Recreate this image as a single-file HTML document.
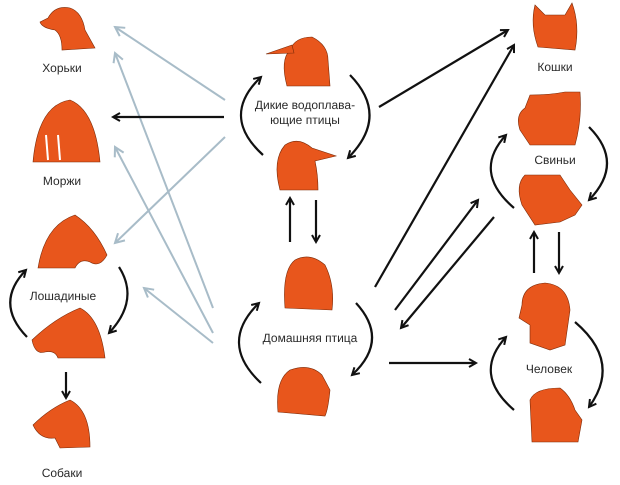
<!DOCTYPE html>
<html><head><meta charset="utf-8"><style>
html,body{margin:0;padding:0;background:#fff;}
svg{display:block;}
text{font-family:"Liberation Sans",sans-serif;font-size:12px;fill:#2a2a2a;text-anchor:middle;}
</style></head><body>
<svg width="620" height="485" viewBox="0 0 620 485" xmlns="http://www.w3.org/2000/svg">
<defs>
<marker id="ab" markerWidth="10" markerHeight="10" refX="8" refY="5" orient="auto" markerUnits="userSpaceOnUse">
<polyline points="1,1 8,5 1,9" fill="none" stroke="#111" stroke-width="2"/></marker>
<marker id="ag" markerWidth="12" markerHeight="12" refX="10" refY="6" orient="auto" markerUnits="userSpaceOnUse">
<polyline points="1,1 10,6 1,11" fill="none" stroke="#a8bcc8" stroke-width="2"/></marker>
</defs>
<g fill="#e8561c" stroke="#7a2a08" stroke-width="0.6">
<path d="M48,18 Q55,5 70,8 Q82,12 85,30 L95,48 L62,50 Q62,35 55,30 Q42,28 40,22 Z"/>
<path d="M33,162 Q38,105 70,100 Q95,110 100,162 Z"/>
<path d="M38,268 Q45,225 75,215 Q95,228 107,255 Q100,268 90,262 Q80,258 75,268 Z"/>
<path d="M105,358 Q100,318 80,308 Q55,318 32,340 Q35,355 45,352 Q55,350 58,358 Z"/>
<path d="M90,447 Q90,410 70,400 Q50,408 33,425 Q40,440 55,438 L60,448 Z"/>
<path d="M287,86 Q280,60 290,50 Q295,37 312,37 Q328,45 328,60 L330,86 Z"/>
<path d="M266,54 L292,45 L294,53 Z"/>
<path d="M280,190 Q272,160 285,145 Q298,136 312,148 L336,156 L315,161 Q318,175 318,190 Z"/>
<path d="M285,308 Q282,270 295,260 Q310,252 325,265 Q335,285 332,310 Z"/>
<path d="M278,412 Q275,380 290,370 Q310,363 322,375 L330,390 Q328,410 325,416 Z"/>
<path d="M538,47 Q530,25 535,5 L545,15 L565,15 L572,3 Q580,25 575,50 Z"/>
<path d="M520,130 Q515,115 525,108 L530,95 Q550,95 565,92 L580,92 Q582,120 575,145 L530,145 Z"/>
<path d="M522,205 Q515,185 525,175 L560,175 L570,190 L582,205 L575,215 L560,222 L535,225 Z"/>
<path d="M530,343 L530,325 L519,318 L522,305 Q522,285 545,283 Q568,285 570,310 L565,345 L550,350 Z"/>
<path d="M532,442 L530,400 Q535,388 560,388 Q570,395 575,410 L582,420 L578,442 Z"/>
</g>
<g stroke="#fff" stroke-width="2"><line x1="46" y1="135" x2="48" y2="160"/><line x1="58" y1="135" x2="60" y2="160"/></g>
<g text-rendering="geometricPrecision">
<text x="62" y="72">Хорьки</text>
<text x="62" y="185">Моржи</text>
<text x="63" y="300">Лошадиные</text>
<text x="62" y="477">Собаки</text>
<text x="305" y="109">Дикие водоплава-</text>
<text x="305" y="124">ющие птицы</text>
<text x="310" y="342">Домашняя птица</text>
<text x="555" y="71">Кошки</text>
<text x="555" y="164">Свиньи</text>
<text x="549" y="373">Человек</text>
</g>
<g fill="none" stroke="#a8bcc8" stroke-width="2" marker-end="url(#ag)">
<line x1="225" y1="100" x2="115" y2="27"/>
<line x1="213" y1="308" x2="115" y2="53"/>
<line x1="213" y1="333" x2="115" y2="147"/>
<line x1="225" y1="137" x2="115" y2="243"/>
<line x1="213" y1="343" x2="144" y2="288"/>
</g>
<g fill="none" stroke="#111" stroke-width="2.2" marker-end="url(#ab)">
<line x1="224" y1="117" x2="113" y2="117"/>
<line x1="379" y1="107" x2="508" y2="30"/>
<line x1="375" y1="287" x2="514" y2="45"/>
<line x1="395" y1="310" x2="478" y2="200"/>
<line x1="494" y1="217" x2="401" y2="328"/>
<line x1="389" y1="363" x2="476" y2="363"/>
<line x1="290" y1="242" x2="290" y2="198"/>
<line x1="316" y1="200" x2="316" y2="242"/>
<line x1="534" y1="273" x2="534" y2="232"/>
<line x1="559" y1="232" x2="559" y2="273"/>
<line x1="66" y1="372" x2="66" y2="398"/>
<path d="M263,155 Q220,116 261,77"/>
<path d="M350,75 Q390,116 348,158"/>
<path d="M261,383 Q218,343 259,303"/>
<path d="M356,303 Q390,340 352,375"/>
<path d="M27,337 Q-6,303 26,270"/>
<path d="M119,267 Q140,300 109,333"/>
<path d="M514,208 Q472,172 506,135"/>
<path d="M589,127 Q625,163 589,200"/>
<path d="M514,410 Q472,374 506,337"/>
<path d="M575,322 Q622,362 589,407"/>
</g>
</svg>
</body></html>
